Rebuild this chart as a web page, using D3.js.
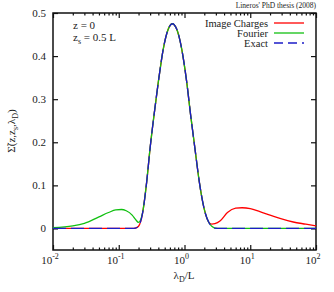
<!DOCTYPE html>
<html>
<head>
<meta charset="utf-8">
<script src="https://cdn.jsdelivr.net/npm/d3@7"></script>
<style>
  body { margin: 0; background: white; }
  text { font-family: "Liberation Serif", "DejaVu Serif", serif; fill: #222; }
</style>
</head>
<body>
<div id="chart"></div>
<script>
// Data
const lambda = [0.01, 0.02, 0.03, 0.05, 0.07, 0.09, 0.11, 0.13, 0.16, 0.18, 0.2, 0.23, 0.266, 0.3, 0.344, 0.4, 0.476, 0.567, 0.652, 0.76, 0.906, 1.08, 1.24, 1.44, 1.68, 1.98, 2.38, 2.6, 2.9, 3.5, 4.5, 6, 7.5, 10, 14, 20, 30, 45, 70, 100]
const exact = [0, 0, 0, 0, 0, 0, 0, 0, 0, 0.001, 0.005, 0.035, 0.108, 0.187, 0.263, 0.340, 0.417, 0.463, 0.475, 0.463, 0.417, 0.340, 0.263, 0.186, 0.108, 0.047, 0.012, 0.005, 0.001, 0, 0, 0, 0, 0, 0, 0, 0, 0, 0, 0]
const fourier = [0.002, 0.006, 0.012, 0.027, 0.037, 0.043, 0.044, 0.041, 0.031, 0.021, 0.014, 0.036, 0.108, 0.187, 0.263, 0.340, 0.417, 0.463, 0.475, 0.463, 0.417, 0.340, 0.263, 0.186, 0.108, 0.047, 0.012, 0.005, 0.001, 0, 0, 0, 0, 0, 0, 0, 0, 0, 0, 0]
const imageCharges = [0, 0, 0, 0, 0, 0, 0, 0, 0, 0.001, 0.005, 0.035, 0.108, 0.187, 0.263, 0.340, 0.417, 0.463, 0.475, 0.463, 0.417, 0.340, 0.263, 0.186, 0.108, 0.047, 0.013, 0.010, 0.011, 0.018, 0.037, 0.047, 0.048, 0.046, 0.039, 0.031, 0.022, 0.015, 0.010, 0.006]
const xMajor = [0.01, 0.1, 1, 10, 100]
const xExp = ["-2", "-1", "0", "1", "2"]
const yTicks = [0, 0.1, 0.2, 0.3, 0.4, 0.5]
const seriesNames = ["Image Charges", "Fourier", "Exact"]
const seriesColors = ["#ff0000", "#11c011", "#1c1cc8"]

var width = 334
var height = 292
var padL = 53, padR = 316, padT = 13, padB = 250

var x = d3.scaleLog().domain([0.01, 100]).range([padL, padR])
var y = d3.scaleLinear().domain([-0.05, 0.5]).range([padB, padT])

var svg = d3.select("#chart").append("svg")
  .attr("width", width)
  .attr("height", height)

// minor ticks for the log axis
var xMinor = []
xMajor.slice(0, 4).forEach(function (d) {
  for (var k = 2; k <= 9; k++) xMinor.push(d * k)
})

// bottom axis
svg.append("g")
  .attr("transform", "translate(0," + padB + ")")
  .call(d3.axisBottom(x).tickValues(xMinor).tickSize(-2.5).tickFormat(""))
svg.append("g")
  .attr("transform", "translate(0," + padB + ")")
  .call(d3.axisBottom(x).tickValues(xMajor).tickSize(-5).tickFormat(""))
// top axis
svg.append("g")
  .attr("transform", "translate(0," + padT + ")")
  .call(d3.axisTop(x).tickValues(xMinor).tickSize(-2.5).tickFormat(""))
svg.append("g")
  .attr("transform", "translate(0," + padT + ")")
  .call(d3.axisTop(x).tickValues(xMajor).tickSize(-5).tickFormat(""))
// left / right axes
svg.append("g")
  .attr("transform", "translate(" + padL + ",0)")
  .call(d3.axisLeft(y).tickValues(yTicks).tickSize(-5).tickPadding(7).tickFormat(d3.format("")))
  .selectAll("text").style("font-size", "11px").style("font-family", "Liberation Serif")
svg.append("g")
  .attr("transform", "translate(" + padR + ",0)")
  .call(d3.axisRight(y).tickValues(yTicks).tickSize(-5).tickFormat(""))

svg.selectAll(".domain").remove()
svg.selectAll(".tick line").attr("stroke", "#111").attr("stroke-width", 1.2)

// x tick labels with superscripts
xMajor.forEach(function (d, i) {
  var t = svg.append("text")
    .attr("x", x(d) - 3)
    .attr("y", padB + 14)
    .attr("text-anchor", "middle")
    .style("font-size", "11px")
  t.append("tspan").text("10")
  t.append("tspan").attr("dy", -5).style("font-size", "8px").text(xExp[i])
})

// frame
svg.append("rect")
  .attr("x", padL).attr("y", padT)
  .attr("width", padR - padL).attr("height", padB - padT)
  .attr("fill", "none").attr("stroke", "#111").attr("stroke-width", 1.5)

// curves
var rows = [imageCharges, fourier, exact]
var line = d3.line()
  .x(function (d, i) { return x(lambda[i]) })
  .y(function (d) { return y(d) })
  .curve(d3.curveMonotoneX)

rows.forEach(function (vals, i) {
  svg.append("path")
    .attr("d", line(vals))
    .attr("fill", "none")
    .attr("stroke", seriesColors[i])
    .attr("stroke-width", 1.3)
    .attr("stroke-dasharray", i == 2 ? "13,5" : null)
})

// legend
seriesNames.forEach(function (name, i) {
  var ly = 23 + i * 10
  svg.append("text")
    .attr("x", 268).attr("y", ly + 3.5)
    .attr("text-anchor", "end")
    .style("font-size", "10.5px")
    .text(name)
  svg.append("line")
    .attr("x1", 274).attr("x2", 304)
    .attr("y1", ly).attr("y2", ly)
    .attr("stroke", seriesColors[i])
    .attr("stroke-width", 1.3)
    .attr("stroke-dasharray", i == 2 ? "9,5" : null)
})

// annotations
svg.append("text")
  .attr("x", 73).attr("y", 29)
  .style("font-size", "11px")
  .text("z = 0")
var zs = svg.append("text")
  .attr("x", 73).attr("y", 41)
  .style("font-size", "11px")
zs.append("tspan").text("z")
zs.append("tspan").attr("dy", 3).style("font-size", "8px").text("s")
zs.append("tspan").attr("dy", -3).text(" = 0.5 L")

svg.append("text")
  .attr("x", 316).attr("y", 8)
  .attr("text-anchor", "end")
  .style("font-size", "7.5px")
  .text("Lineros' PhD thesis (2008)")

// axis titles
var xl = svg.append("text")
  .attr("x", 184).attr("y", 279)
  .attr("text-anchor", "middle")
  .style("font-size", "11px")
xl.append("tspan").text("λ")
xl.append("tspan").attr("dy", 3).style("font-size", "8px").text("D")
xl.append("tspan").attr("dy", -3).text("/L")

var yl = svg.append("text")
  .attr("transform", "translate(15,131) rotate(-90)")
  .attr("text-anchor", "middle")
  .style("font-size", "11px")
yl.append("tspan").text("Σ̃")
yl.append("tspan").text("(z,z")
yl.append("tspan").attr("dy", 3).style("font-size", "8px").text("s")
yl.append("tspan").attr("dy", -3).text(",λ")
yl.append("tspan").attr("dy", 3).style("font-size", "8px").text("D")
yl.append("tspan").attr("dy", -3).text(")")
</script>
</body>
</html>
